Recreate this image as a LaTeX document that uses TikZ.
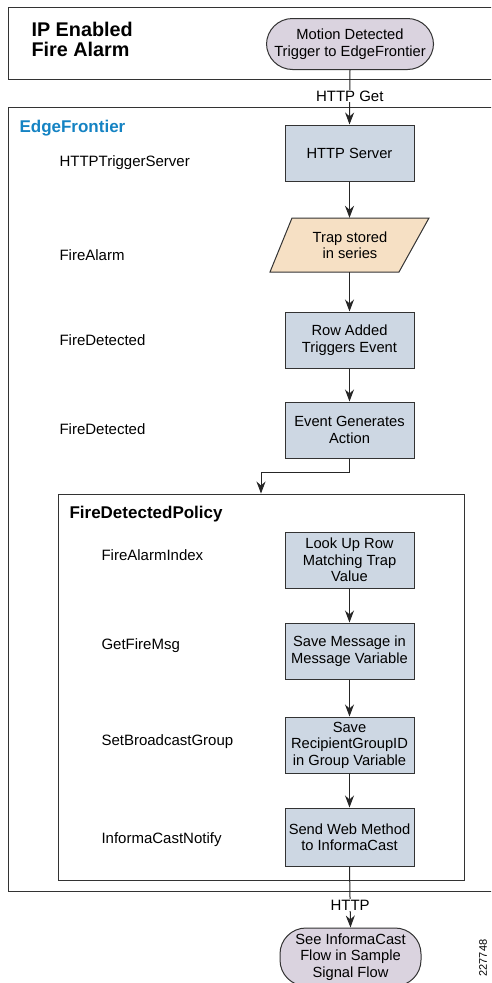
\documentclass[tikz,border=0pt]{standalone}
\usepackage{fontspec}
\setmainfont{Liberation Sans}
\usetikzlibrary{arrows.meta}
\definecolor{boxfill}{HTML}{CDD7E3}
\definecolor{trapfill}{HTML}{F6E0C4}
\definecolor{termfill}{HTML}{DAD3DF}
\definecolor{efblue}{HTML}{1583C3}
\tikzset{
  proc/.style={draw=black!80, fill=boxfill, line width=1pt, minimum width=129pt, minimum height=56pt, align=center, font=\fontsize{14.7}{16.5}\selectfont, inner sep=1pt},
  term/.style={draw=black!80, fill=termfill, line width=1pt, rounded corners=26pt, align=center, font=\fontsize{14.7}{16.5}\selectfont, inner sep=1pt},
  lbl/.style={anchor=west, font=\fontsize{15}{17}\selectfont},
  arr/.style={-{Stealth[length=12pt,width=9pt]}, line width=1pt, draw=black!85},
  frame/.style={draw=black!80, line width=0.9pt},
  wire/.style={fill=white, inner sep=1pt, font=\fontsize{15}{16}\selectfont}
}
\begin{document}
\begin{tikzpicture}[x=1pt,y=-1pt]
\useasboundingbox (0,0) rectangle (491,983);
\clip (0,0) rectangle (491,983);
% outer frames
\draw[frame] (8,7) rectangle (505,79);
\draw[frame] (8,107) rectangle (505,891);
\node[anchor=north west, align=left, font=\fontsize{19.8}{19.5}\selectfont\bfseries] (title) at (28,19) {IP Enabled\\Fire Alarm};
\node[anchor=west, font=\fontsize{17}{18}\selectfont\bfseries, text=efblue] (eflbl) at (16,128) {EdgeFrontier};
% policy frame
\node[frame, minimum width=406pt, minimum height=386pt, inner sep=0pt] (policy) at (261,687) {};
\node[anchor=west, font=\fontsize{17}{18}\selectfont\bfseries] (pollbl) at (66,514) {FireDetectedPolicy};
% top terminator
\node[term, minimum width=167pt, minimum height=51pt] (start) at (350,44) {Motion Detected\\Trigger to EdgeFrontier};
% EdgeFrontier steps
\node[proc] (srv) at (349.5,153) {HTTP Server};
\node[minimum width=130pt, minimum height=54pt, inner sep=0pt] (trap) at (349.5,245) {};
\fill[trapfill] (292,218) -- (429,218) -- (399,272) -- (270,272) -- cycle;
\draw[black!80, line width=1pt] (292,218) -- (429,218) -- (399,272) -- (270,272) -- cycle;
\node[align=center, font=\fontsize{14.7}{16.5}\selectfont] (traptxt) at (350,245) {Trap stored\\in series};
\node[proc] (row) at (349.5,340) {Row Added\\Triggers Event};
\node[proc] (ev) at (349.5,430) {Event Generates\\Action};
% policy steps
\node[proc] (look) at (349.5,560) {Look Up Row\\Matching Trap\\Value};
\node[proc] (save) at (349.5,651) {Save Message in\\Message Variable};
\node[proc] (grp) at (349.5,745) {Save\\RecipientGroupID\\in Group Variable};
\node[proc, minimum height=58pt] (send) at (349.5,837) {Send Web Method\\to InformaCast};
% bottom terminator
\node[term, minimum width=141pt, minimum height=58pt] (endn) at (350.5,957) {See InformaCast\\Flow in Sample\\Signal Flow};
% left labels
\node[lbl] (l1) at (56,163) {HTTPTriggerServer};
\node[lbl] (l2) at (56,255) {FireAlarm};
\node[lbl] (l3) at (56,340) {FireDetected};
\node[lbl] (l4) at (56,429) {FireDetected};
\node[lbl] (l5) at (98,555) {FireAlarmIndex};
\node[lbl] (l6) at (98,646) {GetFireMsg};
\node[lbl] (l7) at (98,742) {SetBroadcastGroup};
\node[lbl] (l8) at (98,840) {InformaCastNotify};
% connectors
\draw[arr] (start.south) -- node[wire, pos=0.48] (hget) {HTTP Get} (srv.north);
\draw[arr] (srv.south) -- (trap.north);
\draw[arr] (trap.south) -- (row.north);
\draw[arr] (row.south) -- (ev.north);
\draw[arr] (ev.south) -- ++(0,14) -| (policy.north);
\draw[arr] (look.south) -- (save.north);
\draw[arr] (save.south) -- (grp.north);
\draw[arr] (grp.south) -- (send.north);
\draw[arr] (send.south) -- node[wire, pos=0.63] (hlbl) {HTTP} (endn.north);
% figure id
\node[rotate=90, font=\fontsize{11}{13}\selectfont, inner sep=1pt] (figid) at (483,958) {227748};
\end{tikzpicture}
\end{document}
